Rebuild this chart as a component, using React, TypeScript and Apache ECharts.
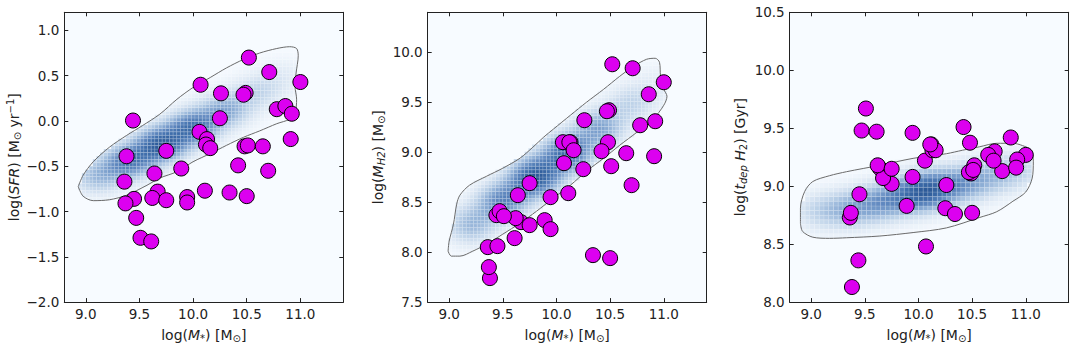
import React, { useEffect, useRef } from 'react';
import * as echarts from 'echarts';

// ---- galaxies (same objects in all three panels) ----
const logMstar = [10.52, 10.71, 10.07, 11.0, 10.26, 10.49, 10.47, 10.78, 10.86, 10.92, 9.44, 10.25, 10.06, 10.13, 10.12, 10.16, 10.48, 10.51, 10.65, 10.91, 9.38, 9.75, 10.42, 9.89, 10.7, 9.64, 9.36, 10.11, 10.34, 10.5, 9.67, 9.62, 9.75, 9.945, 9.945, 9.45, 9.37, 9.47, 9.51, 9.61];
const logSFR = [0.7, 0.54, 0.4, 0.43, 0.305, 0.31, 0.29, 0.13, 0.165, 0.08, 0.005, 0.03, -0.12, -0.2, -0.26, -0.3, -0.28, -0.27, -0.28, -0.2, -0.39, -0.33, -0.49, -0.525, -0.55, -0.58, -0.67, -0.77, -0.79, -0.83, -0.78, -0.85, -0.875, -0.84, -0.9, -0.86, -0.91, -1.07, -1.29, -1.33];
const logMH2 = [9.88, 9.84, 8.89, 9.7, 9.32, 9.42, 9.41, 9.27, 9.58, 9.31, 8.37, 8.83, 9.1, 9.1, 9.1, 9.02, 9.1, 8.86, 8.99, 8.96, 7.74, 8.69, 9.01, 8.32, 8.67, 8.57, 8.05, 8.59, 7.97, 7.94, 8.3, 8.34, 8.27, 8.23, 8.55, 8.06, 7.85, 8.41, 8.36, 8.14];
const logTdep = [9.18, 9.3, 8.48, 9.27, 9.01, 9.11, 9.12, 9.13, 9.42, 9.23, 8.36, 8.81, 9.22, 9.31, 9.36, 9.31, 9.375, 9.14, 9.27, 9.16, 8.13, 9.02, 9.51, 8.83, 9.22, 9.155, 8.73, 9.36, 8.76, 8.77, 9.07, 9.18, 9.15, 9.08, 9.46, 8.93, 8.77, 9.48, 9.67, 9.47];

// ---- tick labels ----
const xTicks = [9.0, 9.5, 10.0, 10.5, 11.0];
const sfrTicks = [-2.0, -1.5, -1.0, -0.5, 0.0, 0.5, 1.0];
const mh2Ticks = [7.5, 8.0, 8.5, 9.0, 9.5, 10.0];
const tdepTicks = [8.0, 8.5, 9.0, 9.5, 10.0, 10.5];

// ---- outer density contours ----
const sfrContour = [
  [8.93, -0.725], [8.975, -0.83], [9.07, -0.88], [9.22, -0.87], [9.38, -0.82], [9.57, -0.71], [9.69, -0.63], [9.85, -0.56],
  [10.0, -0.45], [10.16, -0.36], [10.31, -0.27], [10.47, -0.18], [10.62, -0.11], [10.78, -0.03], [10.9, 0.02], [10.95, 0.09],
  [10.965, 0.24], [10.95, 0.38], [10.96, 0.53], [10.98, 0.72], [10.965, 0.8], [10.9, 0.82], [10.78, 0.8], [10.62, 0.75],
  [10.47, 0.68], [10.31, 0.585], [10.16, 0.48], [10.0, 0.37], [9.85, 0.24], [9.69, 0.075], [9.53, -0.05], [9.38, -0.16],
  [9.22, -0.29], [9.07, -0.45], [8.975, -0.6], [8.93, -0.725]
];
const mh2Contour = [
  [8.99, 8.01], [9.02, 7.96], [9.1, 7.96], [9.22, 8.01], [9.35, 8.08], [9.5, 8.18], [9.66, 8.29], [9.815, 8.41], [9.97, 8.54],
  [10.13, 8.67], [10.28, 8.81], [10.44, 8.94], [10.59, 9.07], [10.75, 9.2], [10.9, 9.33], [11.0, 9.47], [11.03, 9.56],
  [11.0, 9.63], [10.97, 9.76], [10.96, 9.9], [10.92, 9.94], [10.84, 9.93], [10.72, 9.86], [10.59, 9.76], [10.44, 9.63],
  [10.28, 9.5], [10.13, 9.37], [9.97, 9.23], [9.88, 9.15], [9.78, 9.05], [9.66, 8.94], [9.5, 8.84], [9.35, 8.76],
  [9.19, 8.67], [9.1, 8.57], [9.07, 8.48], [9.04, 8.28], [9.0, 8.11], [8.99, 8.01]
];
const tdepContour = [
  [8.9, 8.68], [8.92, 8.61], [9.015, 8.56], [9.17, 8.55], [9.33, 8.555], [9.64, 8.57], [9.95, 8.6], [10.26, 8.64], [10.57, 8.73],
  [10.73, 8.78], [10.88, 8.87], [11.0, 8.95], [11.06, 9.07], [11.07, 9.21], [11.05, 9.31], [10.97, 9.35], [10.88, 9.37],
  [10.73, 9.37], [10.57, 9.34], [10.41, 9.31], [10.26, 9.28], [9.95, 9.24], [9.64, 9.18], [9.33, 9.125], [9.17, 9.09],
  [9.015, 9.04], [8.94, 8.955], [8.9, 8.81], [8.9, 8.68]
];

// ---- density kernels along each ridge: [x, y, weight] ----
const sfrKernels = [[9.1, -0.62, 0.45], [9.4, -0.45, 0.8], [9.7, -0.26, 1.0], [10.0, -0.07, 0.85], [10.3, 0.12, 0.55], [10.6, 0.32, 0.3], [10.85, 0.5, 0.15]];
const mh2Kernels = [[9.2, 8.27, 0.45], [9.5, 8.51, 0.7], [9.8, 8.75, 1.0], [10.1, 8.99, 0.85], [10.4, 9.24, 0.55], [10.7, 9.49, 0.3], [10.95, 9.7, 0.12]];
const tdepKernels = [[9.05, 8.78, 0.4], [9.35, 8.8, 0.65], [9.65, 8.86, 0.8], [9.95, 8.93, 0.95], [10.15, 8.98, 1.0], [10.45, 9.03, 0.75], [10.75, 9.1, 0.5], [10.98, 9.15, 0.3]];

const FONT = 'DejaVu Sans';
const TEXT = '#222';
const AXIS = '#222';
const MAGENTA = '#dc00f0';
const BLUES = ['#f7fbff', '#dde8f4', '#b9cfe7', '#8cadd5', '#6189c0', '#4170ad', '#2d5a98'];
const TICK_FS = 13.5;
const NAME_FS = 14;
const SUB_FS = 10;

function inside(x: number, y: number, poly: number[][]) {
  let c = false;
  for (let i = 0, j = poly.length - 1; i < poly.length; j = i++) {
    const [xi, yi] = poly[i];
    const [xj, yj] = poly[j];
    if ((yi > y) !== (yj > y) && x < ((xj - xi) * (y - yi)) / (yj - yi) + xi) c = !c;
  }
  return c;
}

function densityCells(kernels: number[][], sx: number, sy: number, contour: number[][], dx: number, dy: number) {
  const xs = contour.map((p) => p[0]);
  const ys = contour.map((p) => p[1]);
  const x0 = Math.min(...xs), x1 = Math.max(...xs), y0 = Math.min(...ys), y1 = Math.max(...ys);
  const cells: number[][] = [];
  let max = 0;
  for (let x = x0 + dx / 2; x < x1; x += dx) {
    for (let y = y0 + dy / 2; y < y1; y += dy) {
      if (!inside(x, y, contour)) continue;
      let v = 0;
      for (const [cx, cy, w] of kernels) v += w * Math.exp(-0.5 * (((x - cx) / sx) ** 2 + ((y - cy) / sy) ** 2));
      cells.push([x, y, v]);
      if (v > max) max = v;
    }
  }
  return cells.map(([x, y, v]) => [x, y, v / max]);
}

const fmt = (v: number) => v.toFixed(1).replace('-', '\u2212');

const rich = {
  i: { fontFamily: FONT, fontSize: NAME_FS, fontStyle: 'italic', color: TEXT, lineHeight: 17 },
  sb: { fontFamily: FONT, fontSize: SUB_FS, color: TEXT, verticalAlign: 'bottom', lineHeight: 17 },
  sbi: { fontFamily: FONT, fontSize: SUB_FS, fontStyle: 'italic', color: TEXT, verticalAlign: 'bottom', lineHeight: 17 },
  sp: { fontFamily: FONT, fontSize: SUB_FS, color: TEXT, verticalAlign: 'top', lineHeight: 17 },
};
const nameStyle = { fontFamily: FONT, fontSize: NAME_FS, color: TEXT, lineHeight: 17, rich };

const xName = 'log({i|M}{sb|*}) [M{sb|\u2299}]';
const yNames = [
  'log({i|SFR}) [M{sb|\u2299} yr{sp|\u22121}]',
  'log({i|M}{sbi|H2}) [M{sb|\u2299}]',
  'log({i|t}{sbi|dep} {i|H}{sb|2}) [Gyr]',
];

export default function App() {
  const ref = useRef<HTMLDivElement>(null);
  useEffect(() => {
    if (!ref.current) return;
    const chart = echarts.init(ref.current, undefined, { renderer: 'svg' });

    const lefts = [64.3, 427.7, 789.7];
    const yRanges = [[-2.0, 1.2], [7.5, 10.4], [8.0, 10.5]];
    const yTickSets = [sfrTicks, mh2Ticks, tdepTicks];
    const yVals = [logSFR, logMH2, logTdep];
    const contours = [sfrContour, mh2Contour, tdepContour];
    const steps = [[0.034, 0.038], [0.034, 0.036], [0.044, 0.04]];
    const cells = [
      densityCells(sfrKernels, 0.17, 0.14, sfrContour, steps[0][0], steps[0][1]),
      densityCells(mh2Kernels, 0.17, 0.14, mh2Contour, steps[1][0], steps[1][1]),
      densityCells(tdepKernels, 0.18, 0.12, tdepContour, steps[2][0], steps[2][1]),
    ];

    const grid: any[] = [];
    const xAxis: any[] = [];
    const yAxis: any[] = [];
    const series: any[] = [];
    const tickLine = { color: AXIS, width: 1 };

    for (let p = 0; p < 3; p++) {
      grid.push({ left: lefts[p], top: 12.3, width: 279, height: 292.7, show: true, backgroundColor: '#f7fbff', borderWidth: 0 });
      const xBase = {
        type: 'value', gridIndex: p, min: 8.8, max: 11.4,
        axisLine: { show: true, onZero: false, lineStyle: tickLine },
        axisTick: { show: true, inside: true, length: 4, customValues: xTicks, lineStyle: tickLine },
        splitLine: { show: false },
      };
      xAxis.push({
        ...xBase, position: 'bottom',
        axisLabel: { customValues: xTicks, formatter: fmt, margin: 5, fontSize: TICK_FS, fontFamily: FONT, color: TEXT },
        name: xName, nameLocation: 'middle', nameGap: 18, nameTextStyle: nameStyle,
      });
      xAxis.push({ ...xBase, position: 'top', axisLabel: { show: false } });
      const yBase = {
        type: 'value', gridIndex: p, min: yRanges[p][0], max: yRanges[p][1],
        axisLine: { show: true, onZero: false, lineStyle: tickLine },
        axisTick: { show: true, inside: true, length: 4, customValues: yTickSets[p], lineStyle: tickLine },
        splitLine: { show: false },
      };
      yAxis.push({
        ...yBase, position: 'left',
        axisLabel: { customValues: yTickSets[p], formatter: fmt, margin: 5, fontSize: TICK_FS, fontFamily: FONT, color: TEXT },
        name: yNames[p], nameLocation: 'middle', nameRotate: 90, nameGap: 41, nameTextStyle: nameStyle,
      });
      yAxis.push({ ...yBase, position: 'right', axisLabel: { show: false } });

      const [dx, dy] = steps[p];
      series.push({
        type: 'custom', coordinateSystem: 'cartesian2d', xAxisIndex: 2 * p, yAxisIndex: 2 * p,
        data: cells[p], clip: true, silent: true, z: 1,
        renderItem: (_params: any, api: any) => {
          const x = api.value(0), y = api.value(1);
          const a = api.coord([x - dx / 2, y + dy / 2]);
          const b = api.coord([x + dx / 2, y - dy / 2]);
          return {
            type: 'rect',
            shape: { x: a[0], y: a[1], width: b[0] - a[0], height: b[1] - a[1] },
            style: { fill: api.visual('color'), stroke: 'rgba(255,255,255,0.28)', lineWidth: 0.5 },
          };
        },
      });
      series.push({
        type: 'line', xAxisIndex: 2 * p, yAxisIndex: 2 * p, data: contours[p], showSymbol: false, smooth: 0.3,
        lineStyle: { color: '#6a6a6a', width: 1 }, z: 2, silent: true,
      });
      series.push({
        type: 'scatter', xAxisIndex: 2 * p, yAxisIndex: 2 * p,
        data: logMstar.map((x, k) => [x, yVals[p][k]]),
        symbolSize: 15, itemStyle: { color: MAGENTA, borderColor: '#000', borderWidth: 1, opacity: 1 }, z: 5,
      });
    }

    chart.setOption({
      animation: false,
      backgroundColor: '#fff',
      grid, xAxis, yAxis, series,
      visualMap: {
        show: false, type: 'continuous', min: 0, max: 1, dimension: 2, seriesIndex: [0, 3, 6],
        inRange: { color: BLUES },
      },
    });
    return () => chart.dispose();
  }, []);
  return <div ref={ref} style={{ position: 'fixed', left: 0, top: 0, width: 1076, height: 348 }} />;
}
